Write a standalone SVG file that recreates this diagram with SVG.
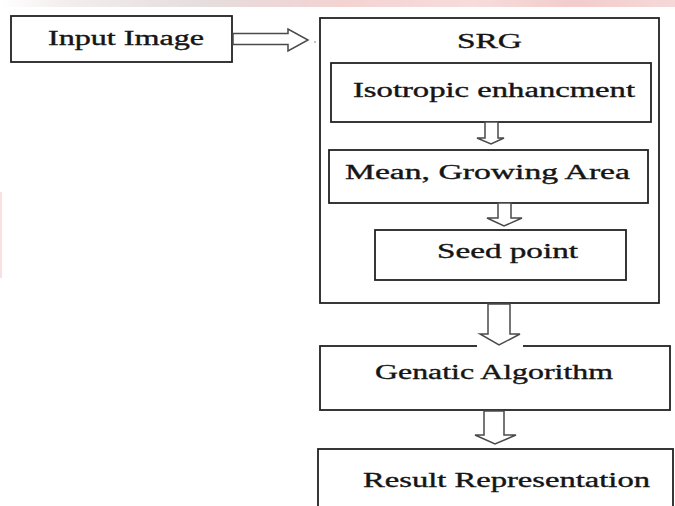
<svg xmlns="http://www.w3.org/2000/svg" width="675" height="506" viewBox="0 0 675 506">
  <defs>
    <linearGradient id="band" x1="0" y1="0" x2="1" y2="0">
      <stop offset="0" stop-color="#ffffff"/>
      <stop offset="0.1" stop-color="#f3eded"/>
      <stop offset="0.3" stop-color="#e6dddd"/>
      <stop offset="0.5" stop-color="#f4d2d2"/>
      <stop offset="0.7" stop-color="#f7dcdc"/>
      <stop offset="0.85" stop-color="#f3cccc"/>
      <stop offset="1" stop-color="#f6d8d8"/>
    </linearGradient>
    <style>
      .box { fill: #ffffff; stroke: #222222; stroke-width: 1.8; }
      .lbl { font-family: "Liberation Serif", "Times New Roman", serif; font-size: 20px; fill: #151515; stroke: #151515; stroke-width: 0.35; }
      .arr { fill: #ffffff; stroke: #4a4a4a; stroke-width: 1.5; stroke-linejoin: miter; }
    </style>
  </defs>

  <!-- page background and faint print bands -->
  <rect x="0" y="0" width="675" height="506" fill="#ffffff"/>
  <rect x="0" y="0" width="675" height="7" fill="url(#band)"/>
  <rect x="0" y="192" width="2" height="86" fill="#fae0e3"/>

  <g id="input-image">
    <rect class="box" x="11" y="16" width="221" height="46"/>
    <text class="lbl" x="48" y="45" textLength="156" lengthAdjust="spacingAndGlyphs">Input Image</text>
  </g>

  <g id="srg">
    <rect class="box" x="320" y="18" width="339" height="285"/>
    <text class="lbl" x="457" y="48" textLength="65" lengthAdjust="spacingAndGlyphs">SRG</text>
  </g>

  <g id="isotropic-enhancement">
    <rect class="box" x="331" y="63" width="320" height="59"/>
    <text class="lbl" x="353" y="97" textLength="282" lengthAdjust="spacingAndGlyphs">Isotropic enhancment</text>
  </g>

  <g id="mean-growing-area">
    <rect class="box" x="329" y="150" width="319" height="53"/>
    <text class="lbl" x="345" y="179" textLength="285" lengthAdjust="spacingAndGlyphs">Mean, Growing Area</text>
  </g>

  <g id="seed-point">
    <rect class="box" x="375" y="230" width="251" height="50"/>
    <text class="lbl" x="437" y="258" textLength="141" lengthAdjust="spacingAndGlyphs">Seed point</text>
  </g>

  <g id="genetic-algorithm">
    <rect class="box" x="320" y="346" width="350" height="64"/>
    <text class="lbl" x="375" y="379" textLength="238" lengthAdjust="spacingAndGlyphs">Genatic Algorithm</text>
  </g>

  <g id="result-representation">
    <rect class="box" x="318" y="449" width="355" height="70"/>
    <text class="lbl" x="363" y="487" textLength="287" lengthAdjust="spacingAndGlyphs">Result Representation</text>
  </g>

  <g id="connectors">
    <!-- Input Image -> SRG -->
    <path class="arr" d="M233 33.5 H288 V29 L308 40 L288 51 V44.5 H233 Z"/>
    <circle cx="315" cy="42" r="0.8" fill="#777777"/>
    <!-- Isotropic enhancement -> Mean, Growing Area -->
    <path class="arr" d="M485 122 H498 V138 H504 L491 144 L477 138 H485 Z"/>
    <!-- Mean, Growing Area -> Seed point -->
    <path class="arr" d="M498 203 H511 V218 H522 L504 226 L487 218 H498 Z"/>
    <!-- SRG -> Genetic Algorithm (knockout over the box edge) -->
    <rect x="477" y="344" width="46" height="4" fill="#ffffff"/>
    <path class="arr" d="M488 304 H510 V334 H520 L499 345 L480 334 H488 Z"/>
    <!-- Genetic Algorithm -> Result Representation -->
    <path class="arr" d="M484 411 H504 V435 H516 L495 444 L475 435 H484 Z"/>
  </g>
</svg>
